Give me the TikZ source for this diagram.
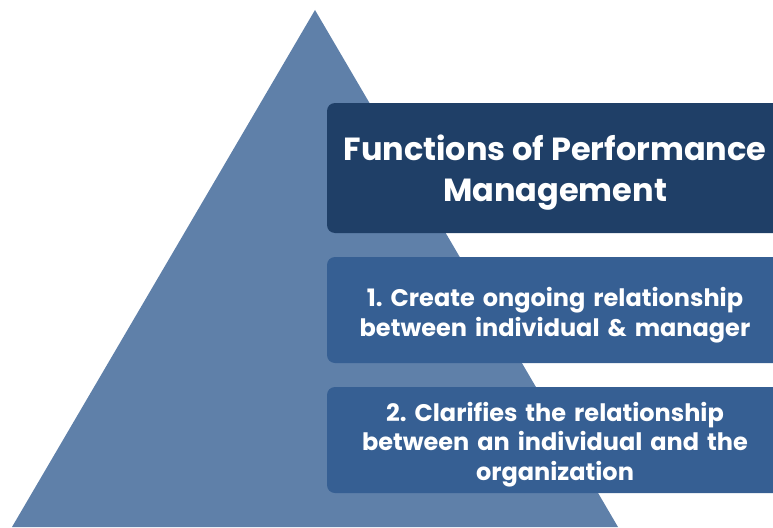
\documentclass[tikz,border=0pt]{standalone}
\usepackage{fontspec}
\setmainfont{Poppins}
\frenchspacing
\definecolor{tri}{HTML}{5F80A9}
\definecolor{navy}{HTML}{1F3F67}
\definecolor{boxblue}{HTML}{365F93}
\begin{document}
\begin{tikzpicture}[x=1pt,y=-1pt,
  boxtext/.style={text=white, font=\bfseries\fontsize{24}{29.5}\selectfont, align=center, text width=440pt}]
\useasboundingbox (0,0) rectangle (773,527);
\clip (0,0) rectangle (773,527);
\fill[tri] (315,10) coordinate (apex) -- (618,527) -- (12,527) -- cycle;
\fill[navy, rounded corners=8pt] (327,103) rectangle (790,233);
\fill[boxblue, rounded corners=8pt] (327,257) rectangle (790,363);
\fill[boxblue, rounded corners=8pt] (327,387) rectangle (790,493);
\node[text=white, font=\bfseries\fontsize{32}{41}\selectfont, align=center] (title) at (555,173) {Functions of Performance\\Management};
\node[boxtext] (b1) at (555,315) {1. Create ongoing relationship\\between individual \& manager};
\node[boxtext] (b2) at (555,444.5) {2. Clarifies the relationship\\between an individual and the\\organization};
\end{tikzpicture}
\end{document}
